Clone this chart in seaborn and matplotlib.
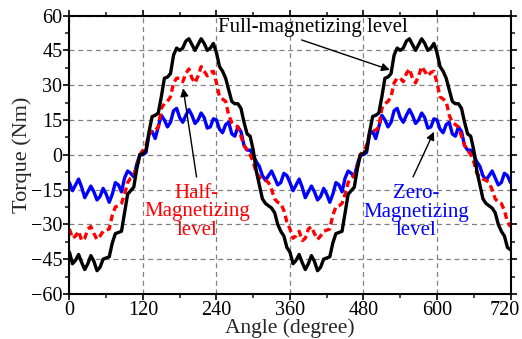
import matplotlib
matplotlib.use("Agg")
import matplotlib.pyplot as plt
import matplotlib.transforms as mtransforms
import seaborn as sns
import numpy as np
import pandas as pd

# Winkel in Grad (Abtastung alle 5 Grad)
angle = np.arange(0, 721, 5)

# Drehmoment (Nm)
full_level = [
    -42, -47, -45.5, -43, -46.5, -49.5, -47, -43.5, -46, -50, -48.5, -45, -44.5, -44, -38, -34,
    -33.5, -33, -25, -17, -15.5, -14, -6, 0, 0.5, 2, 10, 16.5, 17, 18, 25, 33,
    33.5, 35, 43, 46, 45, 46, 49, 50, 47.5, 45, 47.5, 50, 48, 45, 46, 48,
    44, 38, 36, 33, 28, 23, 22, 22, 20, 14, 9, 8, 2, -7, -13, -19,
    -21, -22, -23, -25, -30, -33, -35, -40,
    -42, -47, -45.5, -43, -46.5, -49.5, -47, -43.5, -46, -50, -48.5, -45, -44.5, -44, -38, -34,
    -33.5, -33, -25, -17, -15.5, -14, -6, 0, 0.5, 2, 10, 16.5, 17, 18, 25, 33,
    33.5, 35, 43, 46, 45, 46, 49, 50, 47.5, 45, 47.5, 50, 48, 45, 46, 48,
    44, 38, 36, 33, 28, 23, 22, 22, 20, 14, 9, 8, 2, -7, -13, -19,
    -21, -22, -23, -25, -30, -33, -35, -40, -41,
]
half_level = [
    -32, -36, -35, -33, -37, -36, -32, -31, -34, -36.5, -35, -33, -32.5, -32, -26, -22.5,
    -22, -21, -17, -12, -10, -9, -5, 0, 2, 4, 9, 10.5, 10.5, 12, 20, 22,
    23, 25, 31, 33, 33, 31.5, 35, 37, 33, 31, 34, 38, 36, 34, 35.5, 36,
    31, 25, 24, 23, 17, 14, 13, 12, 8, 4, 2, 0, -3, -8, -9.5, -10.5,
    -11, -12, -15, -19, -20.5, -21, -24, -29,
    -32, -36, -35, -33, -37, -36, -32, -31, -34, -36.5, -35, -33, -32.5, -32, -26, -22.5,
    -22, -21, -17, -12, -10, -9, -5, 0, 2, 4, 9, 10.5, 10.5, 12, 20, 22,
    23, 25, 31, 33, 33, 31.5, 35, 37, 33, 31, 34, 38, 36, 34, 35.5, 36,
    31, 25, 24, 23, 17, 14, 13, 12, 8, 4, 2, 0, -3, -8, -9.5, -10.5,
    -11, -12, -15, -19, -20.5, -21, -24, -29, -31,
]
zero_level = [
    -12, -15.5, -13, -10.5, -14, -18.5, -16, -13.5, -16, -19.5, -18, -14.5, -17, -20.5, -17, -12,
    -13, -16, -10, -7, -8, -9.5, -4, 0, 0, 1, 9, 10, 7, 12, 17, 15,
    12, 14, 19, 20, 16, 14, 17, 19.5, 17, 13.5, 15, 18, 16, 11.5, 12, 15.5,
    15, 11, 9.5, 13, 14, 9, 8, 12, 10, 4, 2, 2, 0, -3, -5, -9,
    -11, -9, -7, -10, -13, -12, -8, -9,
    -12, -15.5, -13, -10.5, -14, -18.5, -16, -13.5, -16, -19.5, -18, -14.5, -17, -20.5, -17, -12,
    -13, -16, -10, -7, -8, -9.5, -4, 0, 0, 1, 9, 10, 7, 12, 17, 15,
    12, 14, 19, 20, 16, 14, 17, 19.5, 17, 13.5, 15, 18, 16, 11.5, 12, 15.5,
    15, 11, 9.5, 13, 14, 9, 8, 12, 10, 4, 2, 2, 0, -3, -5, -9,
    -11, -9, -7, -10, -13, -12, -8, -9, -12,
]

df = pd.DataFrame({
    "angle": angle,
    "full": full_level,
    "half": half_level,
    "zero": zero_level,
})

sns.set_style("ticks")
plt.rcParams["font.family"] = ["Liberation Serif", "DejaVu Serif"]

fig = plt.figure(figsize=(5.22, 3.39), dpi=100)
ax = fig.add_axes([0.133, 0.133, 0.845, 0.821])

# Raster zuerst, damit die Kurven darüber liegen
ax.set_axisbelow(True)
ax.grid(True, which="major", color="#808080", linestyle=(0, (4, 3)), linewidth=0.9)

sns.lineplot(data=df, x="angle", y="zero", ax=ax, color="#0000ff", linewidth=2.4)
sns.lineplot(data=df, x="angle", y="half", ax=ax, color="#ff0000", linewidth=2.4)
ax.lines[-1].set_linestyle((0, (2.0, 1.2)))
sns.lineplot(data=df, x="angle", y="full", ax=ax, color="black", linewidth=2.4)

ax.set_xlim(0, 720)
ax.set_ylim(-60, 60)
ax.set_xticks(np.arange(0, 721, 120))
ax.set_xticks(np.arange(60, 721, 120), minor=True)
ax.set_yticks(np.arange(-60, 61, 15))
ax.set_yticks(np.arange(-52.5, 60, 15), minor=True)

ax.tick_params(axis="both", which="major", labelsize=14.5, direction="out", length=4,
               width=1.2, colors="black", pad=1)
ax.tick_params(axis="both", which="minor", direction="out", length=3, width=1.2)
ax.tick_params(axis="both", which="both", top=True, right=True)

# letzte x-Beschriftung etwas nach links, damit sie im Bild bleibt
last = ax.get_xticklabels()[-1]
last.set_transform(last.get_transform() +
                   mtransforms.ScaledTranslation(-6 / 100, 0, fig.dpi_scale_trans))

for sp in ax.spines.values():
    sp.set_linewidth(1.5)
    sp.set_color("black")

ax.set_xlabel("Angle (degree)", fontsize=15.5, labelpad=-1)
ax.set_ylabel("Torque (Nm)", fontsize=16, labelpad=-1)

# Beschriftungen
ax.text(397, 55, "Full-magnetizing level", ha="center", va="center", fontsize=15,
        color="black")
ax.annotate("", xy=(523, 36.6), xytext=(379, 49.5),
            arrowprops=dict(arrowstyle="-|>", color="black", lw=1.0, mutation_scale=12,
                            shrinkA=0, shrinkB=0))

ax.text(208, -24.6, "Half-\nMagnetizing\nlevel", ha="center", va="center", fontsize=15,
        color="#ff0000", linespacing=0.95)
ax.annotate("", xy=(185.6, 28.7), xytext=(207.5, -9.6),
            arrowprops=dict(arrowstyle="-|>", color="black", lw=1.0, mutation_scale=12,
                            shrinkA=0, shrinkB=0))

ax.text(566, -24.7, "Zero-\nMagnetizing\nlevel", ha="center", va="center", fontsize=15,
        color="#0000ff", linespacing=0.95)
ax.annotate("", xy=(595, 9.9), xytext=(561, -9.5),
            arrowprops=dict(arrowstyle="-|>", color="black", lw=1.0, mutation_scale=12,
                            shrinkA=0, shrinkB=0))

fig.savefig("out.png", dpi=100)
